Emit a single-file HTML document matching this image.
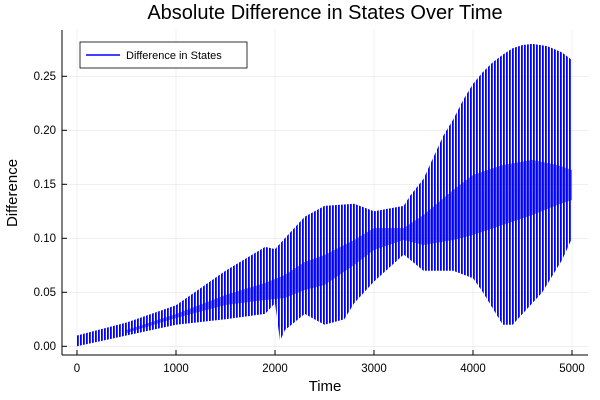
<!DOCTYPE html>
<html><head><meta charset="utf-8"><style>body{margin:0;background:#fff}svg{display:block;font-family:"Liberation Sans","DejaVu Sans",sans-serif}</style></head>
<body>
<svg width="600" height="400" viewBox="0 0 600 400">
<defs>
<pattern id="st" patternUnits="userSpaceOnUse" x="77" y="0" width="3" height="400">
<rect x="0" y="0" width="1.8" height="400" fill="#0000ff"/>
</pattern>
</defs>
<rect width="600" height="400" fill="#fff"/>
<g stroke="#000" stroke-opacity="0.1" stroke-width="0.6">
<line x1="77" y1="30" x2="77" y2="355"/><line x1="176" y1="30" x2="176" y2="355"/><line x1="275" y1="30" x2="275" y2="355"/><line x1="374" y1="30" x2="374" y2="355"/><line x1="473" y1="30" x2="473" y2="355"/><line x1="572" y1="30" x2="572" y2="355"/>
<line x1="62" y1="346.3" x2="588" y2="346.3"/><line x1="62" y1="292.3" x2="588" y2="292.3"/><line x1="62" y1="238.3" x2="588" y2="238.3"/><line x1="62" y1="184.3" x2="588" y2="184.3"/><line x1="62" y1="130.3" x2="588" y2="130.3"/><line x1="62" y1="76.3" x2="588" y2="76.3"/>
</g>
<polygon fill="url(#st)" points="77,335.5 126.5,322.5 176,305.3 225.5,270.7 265.1,246.9 275,249.1 284.9,238.3 304.7,216.7 324.5,205.9 354.2,203.7 374,211.3 403.7,205.9 410.6,195.1 423.5,178.9 433.4,157.3 443.3,135.7 453.2,119.5 463.1,100.1 473,83.9 482.9,72 492.8,62.3 502.7,54.7 512.6,48.2 522.5,45 532.4,43.9 547.3,46.1 562.1,52.5 572,60.1 572,238.3 562.1,259.9 542.3,292.3 522.5,313.9 512.6,324.7 502.7,324.7 492.8,308.5 482.9,292.3 473,278.3 453.2,270.7 423.5,270.7 403.7,254.5 374,281.5 354.2,303.1 344.3,319.3 324.5,324.7 304.7,313.9 284.9,330.1 280,340.9 275,303.1 265.1,313.9 225.5,319.3 176,324.7 126.5,335.5 77,346.3"/>
<polygon fill="#0000ff" fill-opacity="0.55" points="126.5,330 176,314 225.5,295 265.1,283 284.9,275 304.7,262 324.5,255 354.2,240 374,228 403.7,228 423.5,215 453.2,190 473,175 502.7,165 532.4,160 557.2,165 572,170 572,200 557.2,205 532.4,215 502.7,225 473,235 453.2,240 423.5,245 403.7,240 374,250 354.2,265 324.5,285 304.7,290 284.9,298 265.1,300 225.5,305 176,318 126.5,333"/>
<g stroke="#000" stroke-width="1">
<line x1="62" y1="355" x2="588" y2="355"/><line x1="62" y1="30" x2="62" y2="355"/>
<line x1="77" y1="355" x2="77" y2="350"/><line x1="176" y1="355" x2="176" y2="350"/><line x1="275" y1="355" x2="275" y2="350"/><line x1="374" y1="355" x2="374" y2="350"/><line x1="473" y1="355" x2="473" y2="350"/><line x1="572" y1="355" x2="572" y2="350"/>
<line x1="62" y1="346.3" x2="67" y2="346.3"/><line x1="62" y1="292.3" x2="67" y2="292.3"/><line x1="62" y1="238.3" x2="67" y2="238.3"/><line x1="62" y1="184.3" x2="67" y2="184.3"/><line x1="62" y1="130.3" x2="67" y2="130.3"/><line x1="62" y1="76.3" x2="67" y2="76.3"/>
</g>
<g font-size="11.5" fill="#000" text-anchor="middle">
<text x="77" y="372">0</text><text x="176" y="372">1000</text><text x="275" y="372">2000</text><text x="374" y="372">3000</text><text x="473" y="372">4000</text><text x="572" y="372">5000</text>
</g>
<g font-size="11.5" fill="#000" text-anchor="end">
<text x="56" y="350">0.00</text><text x="56" y="296">0.05</text><text x="56" y="242">0.10</text><text x="56" y="188">0.15</text><text x="56" y="134">0.20</text><text x="56" y="80">0.25</text>
</g>
<text x="325" y="19" font-size="20" text-anchor="middle">Absolute Difference in States Over Time</text>
<text x="325" y="391" font-size="15" text-anchor="middle">Time</text>
<text transform="translate(17,193) rotate(-90)" font-size="15" text-anchor="middle">Difference</text>
<rect x="80" y="42" width="167" height="26" fill="#fff" stroke="#000" stroke-width="0.8"/>
<line x1="86" y1="55" x2="120" y2="55" stroke="#0000ff" stroke-width="1.5"/>
<text x="126" y="59" font-size="11">Difference in States</text>
</svg>
</body></html>
